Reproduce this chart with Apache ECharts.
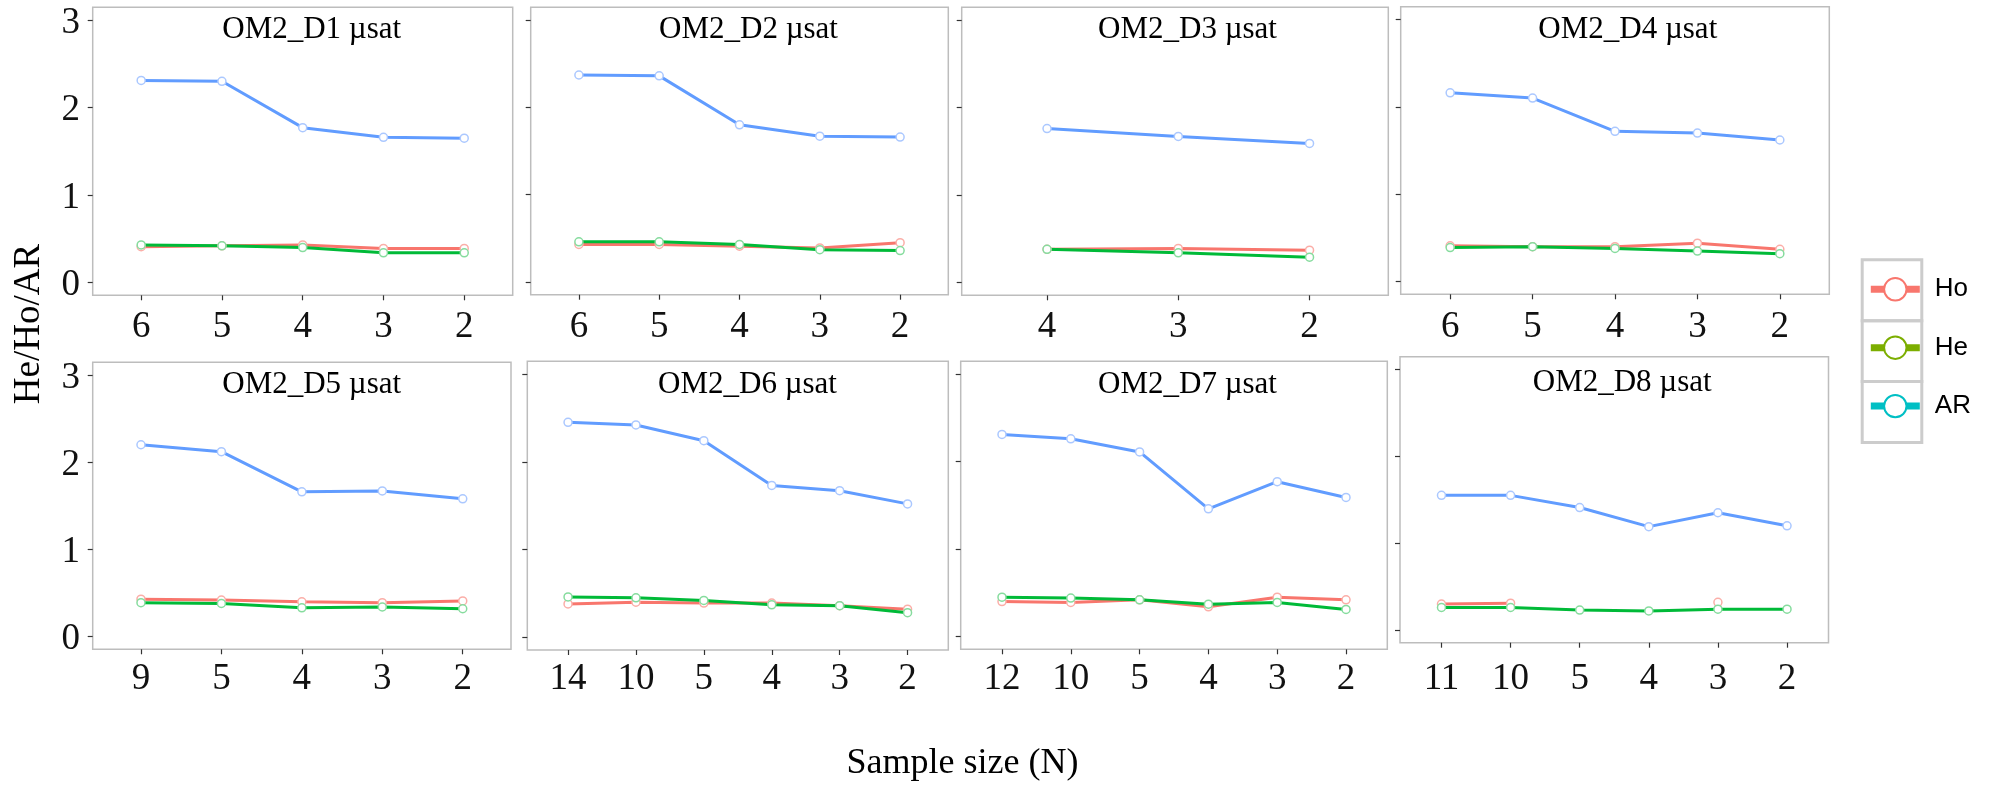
<!DOCTYPE html>
<html>
<head>
<meta charset="utf-8">
<script src="https://cdn.jsdelivr.net/npm/echarts@6/dist/echarts.min.js"></script>
<style>
html,body{margin:0;padding:0;background:#ffffff;}
#chart{width:1989px;height:796px;}
</style>
</head>
<body>
<div id="chart"></div>
<script>
// ---------- data ----------
const yTicks = [0, 1, 2, 3];
const seriesNames = ['Ho', 'He', 'AR'];
const panelTitles = ['OM2_D1 µsat', 'OM2_D2 µsat', 'OM2_D3 µsat', 'OM2_D4 µsat',
                     'OM2_D5 µsat', 'OM2_D6 µsat', 'OM2_D7 µsat', 'OM2_D8 µsat'];
const xTitle = 'Sample size (N)';
const yTitle = 'He/Ho/AR';

const catsD1 = ['6', '5', '4', '3', '2'];
const hoD1 = [0.41, 0.42, 0.43, 0.39, 0.39];
const heD1 = [0.43, 0.42, 0.40, 0.34, 0.34];
const arD1 = [2.31, 2.30, 1.77, 1.66, 1.65];

const catsD2 = ['6', '5', '4', '3', '2'];
const hoD2 = [0.43, 0.43, 0.41, 0.39, 0.45];
const heD2 = [0.46, 0.46, 0.43, 0.37, 0.36];
const arD2 = [2.37, 2.36, 1.80, 1.67, 1.66];

const catsD3 = ['4', '3', '2'];
const hoD3 = [0.38, 0.39, 0.37];
const heD3 = [0.38, 0.34, 0.29];
const arD3 = [1.76, 1.67, 1.59];

const catsD4 = ['6', '5', '4', '3', '2'];
const hoD4 = [0.41, 0.40, 0.40, 0.44, 0.37];
const heD4 = [0.39, 0.40, 0.38, 0.35, 0.32];
const arD4 = [2.16, 2.10, 1.72, 1.70, 1.62];

const catsD5 = ['9', '5', '4', '3', '2'];
const hoD5 = [0.43, 0.42, 0.40, 0.39, 0.41];
const heD5 = [0.39, 0.38, 0.33, 0.34, 0.32];
const arD5 = [2.20, 2.12, 1.66, 1.67, 1.58];

const catsD6 = ['14', '10', '5', '4', '3', '2'];
const hoD6 = [0.38, 0.40, 0.39, 0.39, 0.36, 0.32];
const heD6 = [0.46, 0.45, 0.42, 0.37, 0.36, 0.28];
const arD6 = [2.45, 2.42, 2.24, 1.73, 1.67, 1.52];

const catsD7 = ['12', '10', '5', '4', '3', '2'];
const hoD7 = [0.40, 0.39, 0.42, 0.34, 0.45, 0.42];
const heD7 = [0.45, 0.44, 0.42, 0.37, 0.39, 0.31];
const arD7 = [2.31, 2.26, 2.11, 1.46, 1.77, 1.59];

const catsD8 = ['11', '10', '5', '4', '3', '2'];
const hoD8 = [0.30, 0.31, null, null, 0.32, null];
const heD8 = [0.26, 0.26, 0.23, 0.22, 0.24, 0.24];
const arD8 = [1.55, 1.55, 1.41, 1.19, 1.35, 1.20];

const panelCats = [catsD1, catsD2, catsD3, catsD4, catsD5, catsD6, catsD7, catsD8];
const panelHo = [hoD1, hoD2, hoD3, hoD4, hoD5, hoD6, hoD7, hoD8];
const panelHe = [heD1, heD2, heD3, heD4, heD5, heD6, heD7, heD8];
const panelAr = [arD1, arD2, arD3, arD4, arD5, arD6, arD7, arD8];

// ---------- layout & style ----------
const layout = [
  {left: 92.7,  top: 7.3,   width: 420,   height: 288,   tx: 311.7,  ty: 30.3,  padL: 0.6,  yLab: true,  labRow: 327.5},
  {left: 530.7, top: 7.3,   width: 417.6, height: 287.4, tx: 748.5,  ty: 30.3,  padL: 0.6,  yLab: false, labRow: 327.5},
  {left: 961.7, top: 7.3,   width: 426.6, height: 288,   tx: 1187.5, ty: 30.3,  padL: 0.65, yLab: false, labRow: 327.5},
  {left: 1400.7,top: 6.7,   width: 428.6, height: 287.6, tx: 1627.8, ty: 30.3,  padL: 0.6,  yLab: false, labRow: 327.5},
  {left: 92.7,  top: 362.3, width: 418.3, height: 287,   tx: 311.7,  ty: 385.3, padL: 0.6,  yLab: true,  labRow: 679.5},
  {left: 527.3, top: 361.3, width: 421,   height: 288.7, tx: 747.5,  ty: 385.3, padL: 0.6,  yLab: false, labRow: 679.5},
  {left: 960.7, top: 361.3, width: 426.6, height: 288,   tx: 1187.5, ty: 385.3, padL: 0.6,  yLab: false, labRow: 679.5},
  {left: 1400,  top: 356.7, width: 428.5, height: 286,   tx: 1622.2, ty: 383.3, padL: 0.6,  yLab: false, labRow: 679.5}
];
const lineColors = {Ho: '#F8766D', He: '#00BA38', AR: '#619CFF'};
const pointColors = {Ho: '#fbaea8', He: '#86dc9e', AR: '#abc8ff'};
const legendColors = {Ho: '#F8766D', He: '#7CAE00', AR: '#00BFC4'};
const serif = '"Liberation Serif", "Times New Roman", serif';
const sans = '"Liberation Sans", Arial, sans-serif';
const tickFont = 37;

const grids = [], xAxes = [], yAxes = [], titles = [], series = [];
layout.forEach((L, i) => {
  const cats = panelCats[i];
  const n = cats.length;
  const idx = cats.map((c, j) => j);
  grids.push({left: L.left, top: L.top, width: L.width, height: L.height,
    show: true, borderColor: '#bdbdbd', borderWidth: 1.5, backgroundColor: 'transparent', containLabel: false});
  xAxes.push({
    type: 'value', gridIndex: i, min: -L.padL, max: n - 1 + 0.6, position: 'bottom',
    axisLine: {show: false, onZero: false}, splitLine: {show: false},
    axisTick: {show: true, inside: false, length: 5, lineStyle: {color: '#333', width: 1.2}, customValues: idx},
    axisLabel: {show: true, customValues: idx, formatter: v => cats[Math.round(v)],
      margin: L.labRow - (L.top + L.height) - tickFont / 2,
      fontFamily: serif, fontSize: tickFont, color: '#111'}
  });
  yAxes.push({
    type: 'value', gridIndex: i, min: -0.145, max: 3.145, position: 'left',
    axisLine: {show: false, onZero: false}, splitLine: {show: false},
    axisTick: {show: true, inside: false, length: 5, lineStyle: {color: '#333', width: 1.2}, customValues: yTicks},
    axisLabel: {show: L.yLab, customValues: yTicks, margin: 12.7, verticalAlign: 'top', lineHeight: 6,
      fontFamily: serif, fontSize: tickFont, color: '#111'}
  });
  titles.push({text: panelTitles[i], left: L.tx, top: L.ty, textAlign: 'center', textVerticalAlign: 'middle',
    padding: 0, textStyle: {fontFamily: serif, fontSize: 31, fontWeight: 'normal', color: '#000'}});
  const vals = {Ho: panelHo[i], He: panelHe[i], AR: panelAr[i]};
  seriesNames.forEach(name => {
    series.push({
      name: name, type: 'line', xAxisIndex: i, yAxisIndex: i,
      data: vals[name].map((v, j) => [j, v == null ? '-' : v]),
      symbol: 'circle', symbolSize: 8, showSymbol: true, showAllSymbol: true,
      connectNulls: false, silent: true,
      lineStyle: {color: lineColors[name], width: 3},
      itemStyle: {color: '#ffffff', borderColor: pointColors[name], borderWidth: 1.5},
      emphasis: {disabled: true}
    });
  });
});

const cellTop = 258.3, cellH = 60.9;
const legendCells = seriesNames.map((n, k) => ({
  type: 'rect', z: 0,
  shape: {x: 1862.2, y: cellTop + 1.5 + k * cellH, width: 59.6, height: cellH},
  style: {fill: 'transparent', stroke: '#cccccc', lineWidth: 3}
}));

const option = {
  animation: false,
  backgroundColor: '#ffffff',
  title: titles,
  grid: grids,
  xAxis: xAxes,
  yAxis: yAxes,
  series: series,
  legend: {
    orient: 'vertical', left: 1867.3, top: 276.3, padding: 0,
    itemWidth: 49, itemHeight: 28, itemGap: 32.4, selectedMode: false,
    textStyle: {fontFamily: sans, fontSize: 26, color: '#000', padding: [0, 0, 0, 10]},
    data: seriesNames.map(n => ({
      name: n,
      itemStyle: {color: '#ffffff', borderColor: legendColors[n], borderWidth: 2},
      lineStyle: {color: legendColors[n], width: 7}
    }))
  },
  graphic: legendCells.concat([
    {type: 'text', x: 29.2, y: 324, rotation: Math.PI / 2,
      style: {text: yTitle, font: '37px ' + serif, fill: '#000', align: 'center', verticalAlign: 'middle'}},
    {type: 'text', x: 962.5, y: 763.5,
      style: {text: xTitle, font: '36px ' + serif, fill: '#000', align: 'center', verticalAlign: 'middle'}}
  ])
};

const chart = echarts.init(document.getElementById('chart'), null, {renderer: 'canvas'});
chart.setOption(option);
</script>
</body>
</html>
